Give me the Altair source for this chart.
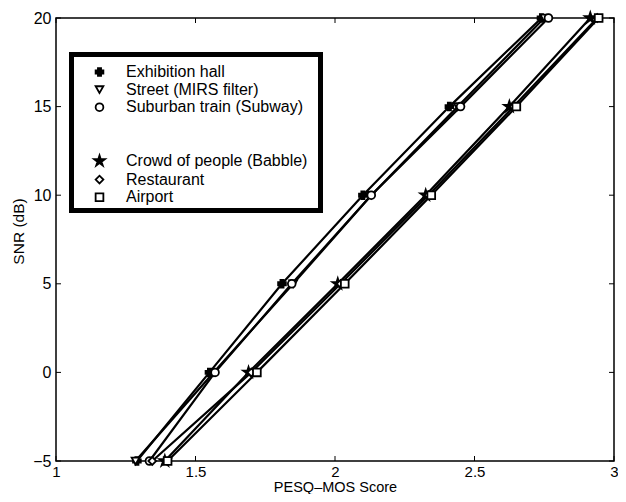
import altair as alt
import pandas as pd

# ---- data ----
snr = [-5, 0, 5, 10, 15, 20]
group_a = ["Exhibition hall", "Street (MIRS filter)", "Suburban train (Subway)"]
group_b = ["Crowd of people (Babble)", "Restaurant", "Airport"]
pesq_exhibition = [1.29, 1.55, 1.81, 2.10, 2.41, 2.74]
pesq_street = [1.285, 1.565, 1.85, 2.13, 2.44, 2.75]
pesq_subway = [1.335, 1.57, 1.845, 2.13, 2.45, 2.765]
pesq_babble = [1.39, 1.69, 2.01, 2.325, 2.625, 2.915]
pesq_restaurant = [1.345, 1.70, 2.02, 2.335, 2.64, 2.94]
pesq_airport = [1.40, 1.72, 2.035, 2.345, 2.65, 2.945]

x_ticks = [1, 1.5, 2, 2.5, 3]
y_ticks = [-5, 0, 5, 10, 15, 20]


def long_table(names, series):
    rows = []
    for name, vals in zip(names, series):
        for s, p in zip(snr, vals):
            rows.append({"noise": name, "snr": s, "pesq": p})
    return pd.DataFrame(rows)


df_a = long_table(group_a, [pesq_exhibition, pesq_street, pesq_subway])
df_b = long_table(group_b, [pesq_babble, pesq_restaurant, pesq_airport])
df_all = pd.concat([df_a, df_b], ignore_index=True)

W, H = 558, 443
FONT = "Liberation Sans"

star = ("M0,-1.45L0.326,-0.448L1.379,-0.448L0.526,0.171L0.853,1.173L0,0.554"
        "L-0.853,1.173L-0.526,0.171L-1.379,-0.448L-0.326,-0.448Z")

x_scale = alt.Scale(domain=[1, 3], nice=False, zero=False)
y_scale = alt.Scale(domain=[-5, 20], nice=False, zero=False)

axis_style = dict(grid=False, domain=False, ticks=False, tickSize=0, labelFlush=False,
                  labelOverlap=False, format="~g", labelFont=FONT,
                  labelColor="black", titleFont=FONT,
                  titleFontWeight="normal", titleColor="black")
x_axis = alt.Axis(values=x_ticks, title="PESQ–MOS Score", labelPadding=3, labelFontSize=15,
                  titleFontSize=14.5, titleX=W / 2, titleY=33, titleBaseline="bottom",
                  **axis_style)
y_axis = alt.Axis(values=y_ticks, title="SNR (dB)", labelPadding=5, labelFontSize=16,
                  titleFontSize=15.5, titleX=-38, titleY=213, titleAngle=-90,
                  titleAlign="center", titleBaseline="middle", **axis_style)


def make_legend(y):
    return alt.Legend(title=None, orient="none", legendX=35.5, legendY=y, padding=0,
                      labelFont=FONT, labelFontSize=16, labelColor="black",
                      labelOffset=18.5, rowPadding=1.6, symbolSize=60,
                      symbolStrokeColor="black", symbolStrokeWidth=1.8, labelLimit=400)


box = alt.Chart(pd.DataFrame({"a": [0]})).mark_rect(
    fill="white", stroke="black", strokeWidth=5
).encode(x=alt.value(15.5), x2=alt.value(264.5), y=alt.value(36.5), y2=alt.value(192.5))

lines = alt.Chart(df_all).mark_line(color="black", strokeWidth=2.2).encode(
    x=alt.X("pesq:Q", scale=x_scale, axis=x_axis),
    y=alt.Y("snr:Q", scale=y_scale, axis=y_axis),
    detail="noise:N",
)


def point_layer(df, names, shapes, fills, legend):
    return alt.Chart(df).mark_point(size=60, strokeWidth=1.8, opacity=1).encode(
        x=alt.X("pesq:Q", scale=x_scale, axis=x_axis),
        y=alt.Y("snr:Q", scale=y_scale, axis=y_axis),
        shape=alt.Shape("noise:N", scale=alt.Scale(domain=names, range=shapes), legend=legend),
        fill=alt.Fill("noise:N", scale=alt.Scale(domain=names, range=fills), legend=legend),
        stroke=alt.Stroke("noise:N", scale=alt.Scale(domain=names, range=["black"] * 3), legend=legend),
    )


points_a = point_layer(df_a, group_a, ["cross", "triangle-down", "circle"],
                       ["black", "white", "white"], make_legend(46))
points_b = point_layer(df_b, group_b, [star, "diamond", "square"],
                       ["black", "white", "white"], make_legend(135))

tx = pd.DataFrame({"t": x_ticks})
ty = pd.DataFrame({"t": y_ticks})
tick_b = alt.Chart(tx).mark_rule(color="black").encode(
    x=alt.X("t:Q", scale=x_scale, axis=x_axis), y=alt.value(H), y2=alt.value(H - 5))
tick_t = alt.Chart(tx).mark_rule(color="black").encode(
    x=alt.X("t:Q", scale=x_scale, axis=x_axis), y=alt.value(0), y2=alt.value(5))
tick_l = alt.Chart(ty).mark_rule(color="black").encode(
    y=alt.Y("t:Q", scale=y_scale, axis=y_axis), x=alt.value(0), x2=alt.value(5))
tick_r = alt.Chart(ty).mark_rule(color="black").encode(
    y=alt.Y("t:Q", scale=y_scale, axis=y_axis), x=alt.value(W), x2=alt.value(W - 5))

chart = alt.layer(box, lines, points_a, points_b, tick_b, tick_t, tick_l, tick_r).resolve_scale(
    shape="independent", fill="independent", stroke="independent"
).properties(
    width=W, height=H,
    padding={"left": 48, "top": 10, "right": 4, "bottom": 33},
    autosize=alt.AutoSizeParams(type="none"),
).configure_view(
    stroke="black", strokeWidth=1.5
)

chart.save("out.html", embed_options={"renderer": "svg", "actions": False})
